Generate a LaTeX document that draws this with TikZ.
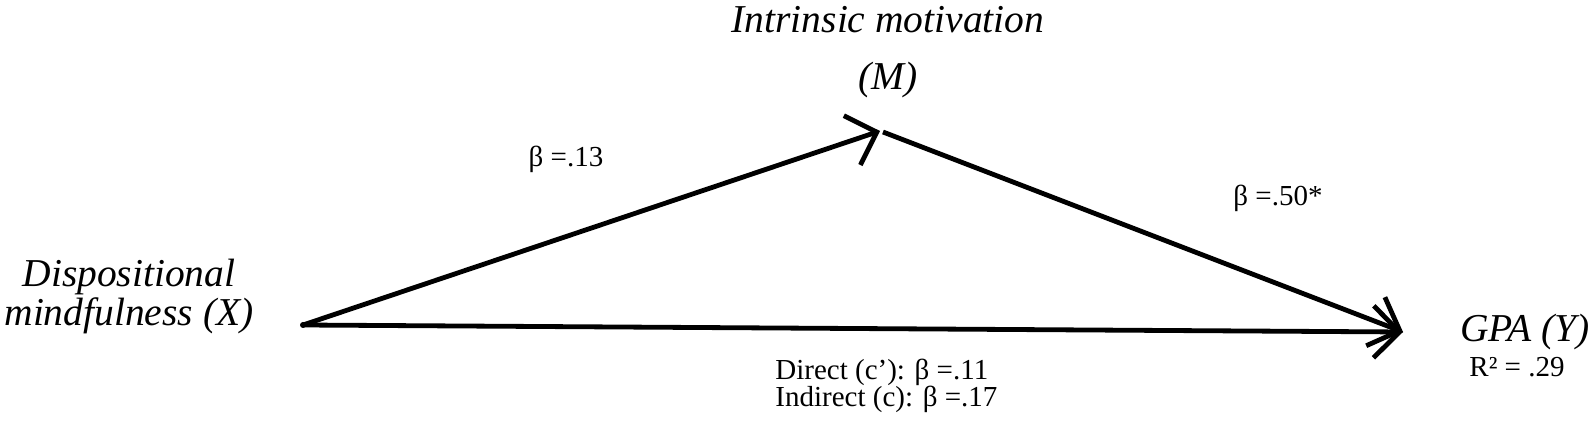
\documentclass[tikz,border=0pt]{standalone}
\usepackage{fontspec}
\setmainfont{Liberation Serif}
\usetikzlibrary{arrows.meta}

\tikzset{
	var/.style={font=\fontsize{19.75}{19.5}\selectfont\itshape, inner sep=0pt, align=center},
	coef/.style={font=\fontsize{14.5}{13.5}\selectfont, inner sep=0pt, align=center},
	path/.style={line width=2.4pt, -{Straight Barb[length=13pt, width=26pt, line width=2.4pt]}}
}

\begin{document}
\begin{tikzpicture}[x=0.5pt, y=-0.5pt]
	\useasboundingbox (0,0) rectangle (1596,437);

	% variables (base = last line)
	\node[var, anchor=base, font=\fontsize{19.75}{28.5}\selectfont\itshape] (M) at (888,90) {Intrinsic motivation\\(M)};
	\node[var, anchor=base] (X) at (129,326) {Dispositional\\mindfulness (X)};
	\node[var, anchor=base] (Y) at (1525,342) {GPA (Y)};
	\node[coef, anchor=base] (R2) at (1517,377) {R² = .29};

	% path end points
	\coordinate (Xp) at (303,325);
	\coordinate (Mp) at (880,131);
	\coordinate (Ms) at (883,132);
	\coordinate (Yp) at (1403,332);

	\draw[path] (Xp) -- (Mp);
	\draw[path] (Ms) -- (Yp);
	\draw[path] (Xp) -- (Yp);
	\fill (Xp) circle (3);

	% coefficients
	\node[coef, anchor=base] (a) at (566,167) {β =.13};
	\node[coef, anchor=base] (b) at (1278,206) {β =.50*};
	\node[coef, anchor=base west, align=left] (c) at (775,407) {Direct (c’): β =.11\\Indirect (c): β =.17};

\end{tikzpicture}
\end{document}
